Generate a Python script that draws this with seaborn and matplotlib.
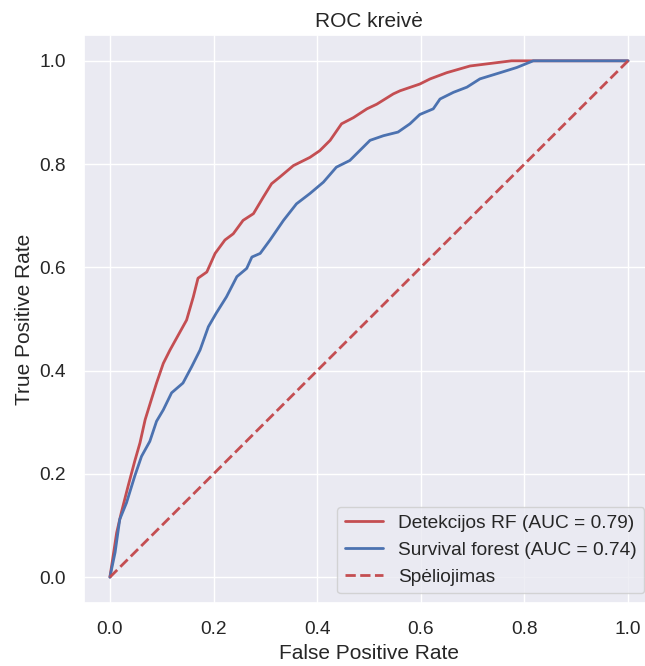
import numpy as np
import pandas as pd
import matplotlib
matplotlib.use("Agg")
import matplotlib.pyplot as plt
import seaborn as sns

# Detekcijos RF ROC curve
rf_fpr = [0.0, 0.013, 0.022, 0.035, 0.048, 0.058, 0.068, 0.080, 0.090, 0.103, 0.116, 0.132,
          0.148, 0.161, 0.170, 0.187, 0.203, 0.222, 0.238, 0.257, 0.277, 0.296, 0.312, 0.328,
          0.354, 0.386, 0.405, 0.425, 0.447, 0.470, 0.496, 0.515, 0.547, 0.560, 0.598, 0.618,
          0.650, 0.695, 0.775, 1.0]
rf_tpr = [0.0, 0.086, 0.125, 0.176, 0.225, 0.260, 0.305, 0.344, 0.376, 0.414, 0.440, 0.469,
          0.498, 0.543, 0.579, 0.591, 0.627, 0.653, 0.665, 0.691, 0.704, 0.736, 0.762, 0.775,
          0.797, 0.813, 0.826, 0.846, 0.878, 0.890, 0.907, 0.916, 0.936, 0.942, 0.955, 0.965,
          0.977, 0.990, 1.0, 1.0]

# Survival forest ROC curve
sf_fpr = [0.0, 0.010, 0.019, 0.032, 0.048, 0.061, 0.077, 0.090, 0.103, 0.119, 0.141, 0.158,
          0.174, 0.190, 0.205, 0.225, 0.245, 0.264, 0.274, 0.290, 0.309, 0.335, 0.360, 0.386,
          0.412, 0.437, 0.463, 0.489, 0.502, 0.528, 0.556, 0.579, 0.598, 0.624, 0.637, 0.663,
          0.689, 0.714, 0.753, 0.785, 0.817, 1.0]
sf_tpr = [0.0, 0.048, 0.112, 0.144, 0.196, 0.234, 0.263, 0.302, 0.324, 0.357, 0.376, 0.408,
          0.440, 0.485, 0.511, 0.543, 0.582, 0.598, 0.620, 0.627, 0.653, 0.691, 0.723, 0.743,
          0.765, 0.794, 0.807, 0.833, 0.846, 0.855, 0.862, 0.878, 0.896, 0.907, 0.926, 0.939,
          0.949, 0.965, 0.977, 0.987, 1.0, 1.0]

labels = ["Detekcijos RF (AUC = 0.79)", "Survival forest (AUC = 0.74)"]
guess_label = "Spėliojimas"
guess_x = [0.0, 1.0]
guess_y = [0.0, 1.0]
ticks = [0.0, 0.2, 0.4, 0.6, 0.8, 1.0]

sns.set_theme(style="darkgrid", color_codes=True, font_scale=1.25,
              rc={"xtick.major.pad": 7, "ytick.major.pad": 7})
plt.rcParams["font.family"] = ["Liberation Sans", "DejaVu Sans"]

df = pd.concat([
    pd.DataFrame({"fpr": rf_fpr, "tpr": rf_tpr, "model": labels[0]}),
    pd.DataFrame({"fpr": sf_fpr, "tpr": sf_tpr, "model": labels[1]}),
], ignore_index=True)

fig = plt.figure(figsize=(6.45, 6.66), dpi=100)
ax = fig.add_axes([84 / 645, 63 / 666, 570 / 645, 568 / 666])

sns.lineplot(data=df, x="fpr", y="tpr", hue="model", palette=["r", "b"],
             sort=False, estimator=None, linewidth=2, ax=ax)
ax.plot(guess_x, guess_y, "r--", linewidth=2, label=guess_label)

ax.set_xlim(-0.05, 1.05)
ax.set_ylim(-0.05, 1.05)
ax.set_xticks(ticks)
ax.set_yticks(ticks)
ax.tick_params(colors="#262626")
ax.set_xlabel("False Positive Rate")
ax.set_ylabel("True Positive Rate")
ax.set_title("ROC kreivė", fontsize=15)
ax.legend(loc="lower right")

fig.savefig("out.png", dpi=100)
